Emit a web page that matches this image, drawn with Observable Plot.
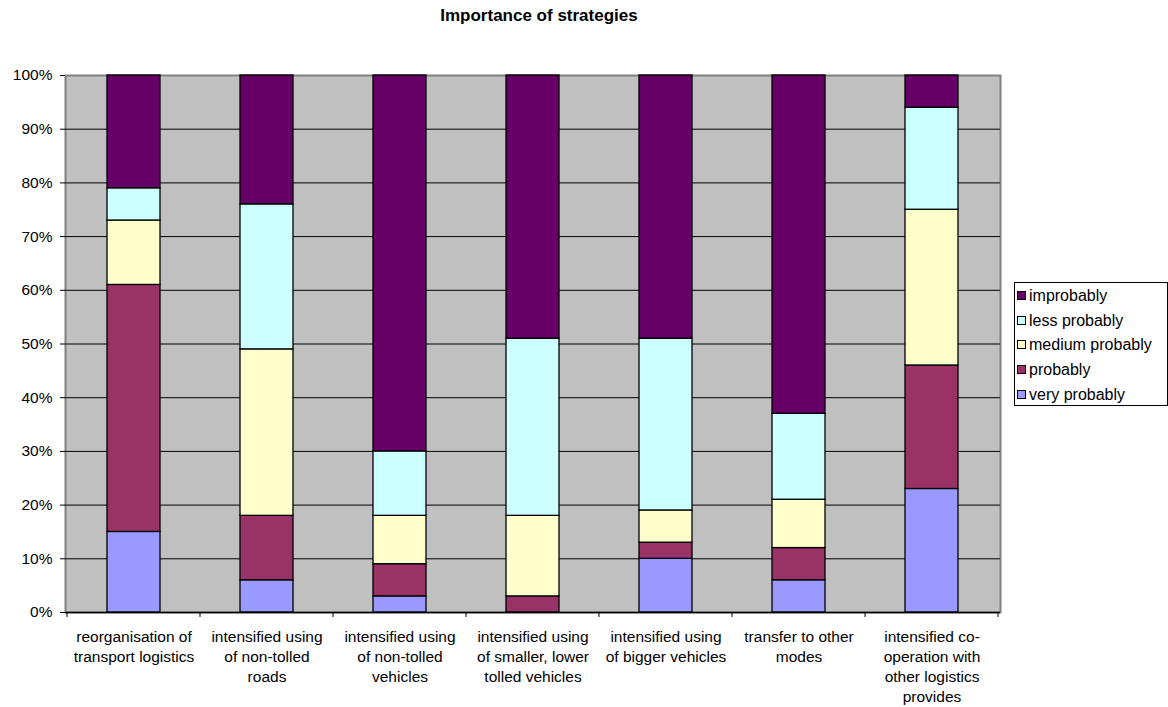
<!DOCTYPE html>
<html>
<head>
<meta charset="utf-8">
<script src="https://cdn.jsdelivr.net/npm/d3@7"></script>
<script src="https://cdn.jsdelivr.net/npm/@observablehq/plot@0.6"></script>
<style>
  body { margin: 0; background: #fff; font-family: "Liberation Sans", Arial, sans-serif; }
  #wrap { position: relative; width: 1168px; height: 707px; }
  #title { height: 36px; width: 1078px; text-align: center; font-weight: bold; font-size: 17px; line-height: 32px; }
  #legend { position: absolute; left: 1014px; top: 282px; width: 152px; height: 122px; border: 1px solid #000; background: #fff; font-size: 16px; }
  .li { position: absolute; left: 2px; height: 18px; line-height: 18px; white-space: nowrap; }
  .sw { display: inline-block; width: 7px; height: 7px; border: 1px solid #000; margin-right: 3px; vertical-align: 1px; }
</style>
</head>
<body>
<div id="wrap">
  <div id="title">Importance of strategies</div>
  <div id="chart"></div>
  <div id="legend"></div>
</div>
<script>
const categories = [
  "reorganisation of\ntransport logistics",
  "intensified using\nof non-tolled\nroads",
  "intensified using\nof non-tolled\nvehicles",
  "intensified using\nof smaller, lower\ntolled vehicles",
  "intensified using\nof bigger vehicles",
  "transfer to other\nmodes",
  "intensified co-\noperation with\nother logistics\nprovides"
];
const seriesNames = ["very probably", "probably", "medium probably", "less probably", "improbably"];
const seriesColors = ["#9999FF", "#993366", "#FFFFCC", "#CCFFFF", "#660066"];
const veryProbably   = [15, 6, 3, 0, 10, 6, 23];
const probably       = [46, 12, 6, 3, 3, 6, 23];
const mediumProbably = [12, 31, 9, 15, 6, 9, 29];
const lessProbably   = [6, 27, 12, 33, 32, 16, 19];
const improbably     = [21, 24, 70, 49, 49, 63, 6];
const yTicks = [0, 10, 20, 30, 40, 50, 60, 70, 80, 90, 100];

const seriesValues = [veryProbably, probably, mediumProbably, lessProbably, improbably];
const data = [];
seriesNames.forEach((s, si) => categories.forEach((c, ci) => data.push({cat: c, series: s, value: seriesValues[si][ci]})));

const plot = Plot.plot({
  width: 1168,
  height: 671,
  marginLeft: 65,
  marginRight: 168,
  marginTop: 39,
  marginBottom: 95,
  style: {fontFamily: "'Liberation Sans', Arial, sans-serif", fontSize: "15.5px", color: "#000"},
  x: {domain: categories, paddingInner: 0.6, paddingOuter: 0.3, label: null},
  y: {domain: [0, 100], label: null},
  color: {domain: seriesNames, range: seriesColors},
  marks: [
    Plot.frame({fill: "#C0C0C0", stroke: "#808080", strokeWidth: 2}),
    Plot.ruleY(yTicks.filter(d => d > 0 && d < 100), {stroke: "#000", strokeWidth: 1}),
    Plot.barY(data, {x: "cat", y: "value", fill: "series", stroke: "#000", strokeWidth: 1.3, order: seriesNames, filter: d => d.value > 0}),
    Plot.axisY({ticks: yTicks, tickFormat: d => d + "%", tickSize: 5, tickPadding: 8, fontSize: 15.5, stroke: "#000"}),
    Plot.ruleY([0], {stroke: "#000", strokeWidth: 1.5}),
    Plot.axisX({tickSize: 0, tickPadding: 15, fontSize: 15.5, lineHeight: 1.3, lineWidth: 100})
  ]
});
document.getElementById("chart").appendChild(plot);

// boundary tick marks between categories, from the plot's x scale
const xs = plot.scale("x");
const step = xs.step;
const svg = d3.select(plot);
const y0 = plot.scale("y").apply(0);
const bounds = categories.map(c => xs.apply(c) + xs.bandwidth / 2 - step / 2);
bounds.push(bounds[bounds.length - 1] + step);
svg.append("g").selectAll("line").data(bounds).join("line")
  .attr("x1", d => d).attr("x2", d => d)
  .attr("y1", y0).attr("y2", y0 + 5)
  .attr("stroke", "#000");

// legend (top series first)
const legend = d3.select("#legend");
seriesNames.slice().reverse().forEach((s, i) => {
  const color = seriesColors[seriesNames.indexOf(s)];
  const item = legend.append("div").attr("class", "li").style("top", (4 + i * 24.7) + "px");
  item.append("span").attr("class", "sw").style("background", color);
  item.append("span").text(s);
});
</script>
</body>
</html>
